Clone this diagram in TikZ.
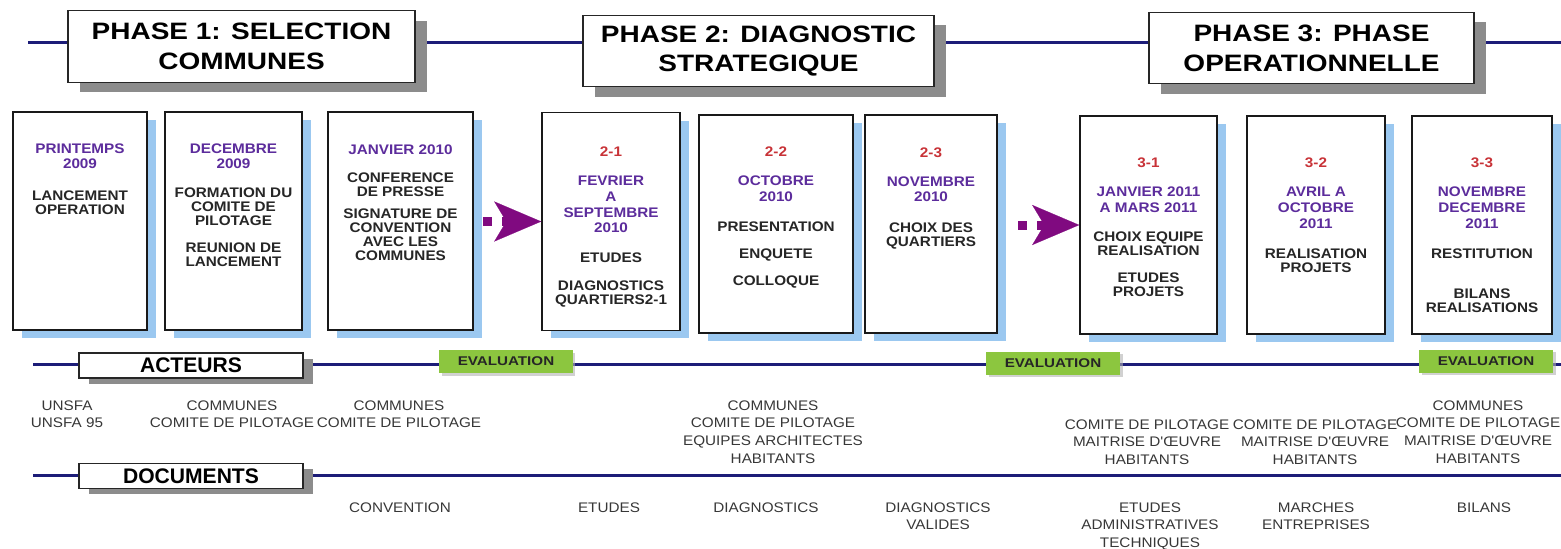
\documentclass[tikz,border=0pt]{standalone}
\usepackage{fontspec}
\setmainfont{Liberation Sans}
\newfontfamily\phasefont[FakeStretch=1.18]{Liberation Sans}
\newfontfamily\cardfont[FakeStretch=1.1]{Liberation Sans}
\newfontfamily\evalfont[FakeStretch=1.2]{Liberation Sans}
\usetikzlibrary{positioning,shadows,arrows.meta}

\definecolor{navyline}{RGB}{28,28,120}
\definecolor{datepurple}{RGB}{92,44,156}
\definecolor{stagered}{RGB}{200,50,55}
\definecolor{cardshadow}{RGB}{155,200,240}
\definecolor{evalgreen}{RGB}{140,198,63}
\definecolor{arrowpurple}{RGB}{128,10,128}
\definecolor{textgray}{RGB}{55,55,55}

\newcommand{\stagedate}[1]{\textcolor{datepurple}{#1}}
\newcommand{\stagenum}[1]{\textcolor{stagered}{#1}}

\begin{document}
\begin{tikzpicture}[x=0.02cm, y=-0.02cm,
  timeline/.style={navyline, line width=0.06cm},
  phasebox/.style={draw=black!85, line width=0.8pt, fill=white, align=center, inner sep=0pt, minimum height=1.43cm,
    font=\phasefont\bfseries\fontsize{13.5}{17}\selectfont,
    drop shadow={shadow xshift=0.24cm, shadow yshift=-0.2cm, fill=black!45, opacity=1}},
  card/.style={draw=black!90, line width=0.9pt, fill=white, minimum height=4.36cm, inner sep=0pt,
    drop shadow={shadow xshift=0.18cm, shadow yshift=-0.16cm, fill=cardshadow, opacity=1}},
  cardtext/.style={align=center, inner sep=0pt, text=black!85, font=\cardfont\bfseries\fontsize{7.9}{7.9}\selectfont},
  labelbox/.style={draw=black!85, line width=0.8pt, fill=white, minimum width=4.48cm, minimum height=0.5cm, inner sep=0pt,
    font=\bfseries\fontsize{12}{12}\selectfont,
    drop shadow={shadow xshift=0.2cm, shadow yshift=-0.11cm, fill=black!45, opacity=1}},
  evalbox/.style={fill=evalgreen, minimum width=2.68cm, minimum height=0.46cm, inner sep=0pt, text=black!85,
    font=\evalfont\bfseries\fontsize{7.2}{8}\selectfont,
    drop shadow={shadow xshift=0.05cm, shadow yshift=-0.05cm, fill=black!30, opacity=0.6}},
  actor/.style={align=center, inner sep=0pt, anchor=north, text=textgray, font=\cardfont\fontsize{7.9}{10.2}\selectfont},
  flowarrow/.style={arrowpurple, line width=0.18cm, dash pattern=on 0.18cm off 0.2cm,
    -{Stealth[length=0.94cm, width=0.8cm, inset=0.24cm, line width=0.1pt]}}]
\useasboundingbox (0,0) rectangle (1561,548);

\coordinate (tl0) at (28,42);
\coordinate (tl1) at (1561,42);
\coordinate (al0) at (33,364);
\coordinate (al1) at (1561,364);
\coordinate (dl0) at (33,475);
\coordinate (dl1) at (1561,475);
\draw[timeline] (tl0) -- (tl1);
\draw[timeline] (al0) -- (al1);
\draw[timeline] (dl0) -- (dl1);

\node[phasebox, minimum width=6.94cm] (ph1) at (241.5,46.5) {PHASE 1: SELECTION\\COMMUNES};
\node[phasebox, minimum width=7.02cm] (ph2) at (758.5,51) {PHASE 2: DIAGNOSTIC\\STRATEGIQUE};
\node[phasebox, minimum width=6.5cm] (ph3) at (1311.5,48) {PHASE 3: PHASE\\OPERATIONNELLE};

\node[card, minimum width=2.68cm] (c1) at (80,221) {};
\node[card, minimum width=2.74cm] (c2) at (233.5,221) {};
\node[card, minimum width=2.9cm] (c3) at (400.5,221) {};
\node[card, minimum width=2.76cm] (c4) at (611,221.5) {};
\node[card, minimum width=3.08cm] (c5) at (776,224) {};
\node[card, minimum width=2.64cm] (c6) at (931,224) {};
\node[card, minimum width=2.74cm] (c7) at (1148.5,225) {};
\node[card, minimum width=2.76cm] (c8) at (1316,225) {};
\node[card, minimum width=2.8cm] (c9) at (1482,225) {};

\node[cardtext, below=0.64cm of c1.north] (t1) {\stagedate{PRINTEMPS}\\[1pt]\stagedate{2009}\\[10pt]LANCEMENT\\OPERATION};
\node[cardtext, below=0.64cm of c2.north] (t2) {\stagedate{DECEMBRE}\\[1pt]\stagedate{2009}\\[8.5pt]FORMATION DU\\COMITE DE\\PILOTAGE\\[7.4pt]REUNION DE\\LANCEMENT};
\node[cardtext, below=0.66cm of c3.north] (t3) {\stagedate{JANVIER 2010}\\[8pt]CONFERENCE\\DE PRESSE\\[5pt]SIGNATURE DE\\CONVENTION\\AVEC LES\\COMMUNES};
\node[cardtext, below=0.69cm of c4.north] (t4) {\stagenum{2-1}\\[9pt]\stagedate{FEVRIER}\\[1pt]\stagedate{A}\\[1pt]\stagedate{SEPTEMBRE}\\[1pt]\stagedate{2010}\\[9pt]ETUDES\\[8pt]DIAGNOSTICS\\QUARTIERS2-1};
\node[cardtext, below=0.64cm of c5.north] (t5) {\stagenum{2-2}\\[9pt]\stagedate{OCTOBRE}\\[1pt]\stagedate{2010}\\[9pt]PRESENTATION\\[7.4pt]ENQUETE\\[7.4pt]COLLOQUE};
\node[cardtext, below=0.66cm of c6.north] (t6) {\stagenum{2-3}\\[8.5pt]\stagedate{NOVEMBRE}\\[1pt]\stagedate{2010}\\[9.5pt]CHOIX DES\\QUARTIERS};
\node[cardtext, below=0.84cm of c7.north] (t7) {\stagenum{3-1}\\[9pt]\stagedate{JANVIER 2011}\\[1pt]\stagedate{A MARS 2011}\\[8.5pt]CHOIX EQUIPE\\REALISATION\\[7.4pt]ETUDES\\PROJETS};
\node[cardtext, below=0.84cm of c8.north] (t8) {\stagenum{3-2}\\[9pt]\stagedate{AVRIL A}\\[1pt]\stagedate{OCTOBRE}\\[1pt]\stagedate{2011}\\[9.5pt]REALISATION\\PROJETS};
\node[cardtext, below=0.84cm of c9.north] (t9) {\stagenum{3-3}\\[9pt]\stagedate{NOVEMBRE}\\[1pt]\stagedate{DECEMBRE}\\[1pt]\stagedate{2011}\\[9.5pt]RESTITUTION\\[14.7pt]BILANS\\REALISATIONS};

\coordinate (ar1) at (483,221.5);
\coordinate (ar2) at (1018,225);
\draw[flowarrow] (ar1) -- (c4.west);
\draw[flowarrow] (ar2) -- (c7.west);

\node[labelbox] (acteurs) at (191,365.5) {ACTEURS};
\node[labelbox] (documents) at (191,476) {DOCUMENTS};

\node[evalbox] (ev1) at (506,361.5) {EVALUATION};
\node[evalbox] (ev2) at (1053,363) {EVALUATION};
\node[evalbox] (ev3) at (1486,361) {EVALUATION};

\node[actor] (act1) at (67,400) {UNSFA\\UNSFA 95};
\node[actor] (act2) at (232,400) {COMMUNES\\COMITE DE PILOTAGE};
\node[actor] (act3) at (399,400) {COMMUNES\\COMITE DE PILOTAGE};
\node[actor] (act4) at (773,400) {COMMUNES\\COMITE DE PILOTAGE\\EQUIPES ARCHITECTES\\HABITANTS};
\node[actor] (act5) at (1147,419) {COMITE DE PILOTAGE\\MAITRISE D'ŒUVRE\\HABITANTS};
\node[actor] (act6) at (1315,419) {COMITE DE PILOTAGE\\MAITRISE D'ŒUVRE\\HABITANTS};
\node[actor] (act7) at (1478,400) {COMMUNES\\COMITE DE PILOTAGE\\MAITRISE D'ŒUVRE\\HABITANTS};

\node[actor] (doc1) at (400,502) {CONVENTION};
\node[actor] (doc2) at (609,502) {ETUDES};
\node[actor] (doc3) at (766,502) {DIAGNOSTICS};
\node[actor] (doc4) at (938,502) {DIAGNOSTICS\\VALIDES};
\node[actor] (doc5) at (1150,502) {ETUDES\\ADMINISTRATIVES\\TECHNIQUES};
\node[actor] (doc6) at (1316,502) {MARCHES\\ENTREPRISES};
\node[actor] (doc7) at (1484,502) {BILANS};
\end{tikzpicture}
\end{document}
